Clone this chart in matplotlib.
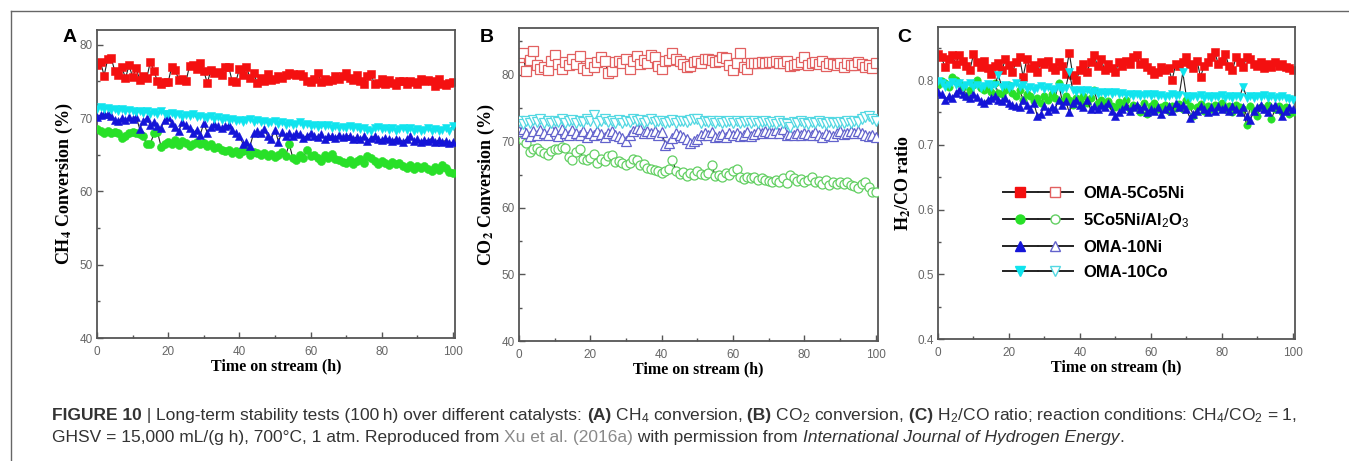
import matplotlib
matplotlib.use("Agg")
import matplotlib.pyplot as plt
from matplotlib.lines import Line2D
from matplotlib.legend_handler import HandlerTuple
from matplotlib.ticker import MultipleLocator

plt.rcParams['font.family'] = ['Liberation Sans', 'DejaVu Sans']
plt.rcParams['mathtext.fontset'] = 'custom'
plt.rcParams['mathtext.rm'] = 'Liberation Sans'
plt.rcParams['mathtext.it'] = 'Liberation Sans:italic'
plt.rcParams['mathtext.bf'] = 'Liberation Sans:bold'

hours = list(range(0, 101))

# (A) CH4 conversion, %
ch4_oma5co5ni = [
    77.3, 77.6, 75.8, 78.0, 78.2, 76.4, 75.9, 77.0, 75.4, 77.2,
    75.6, 76.8, 75.2, 75.8, 75.5, 77.7, 76.4, 75.0, 74.7, 74.9,
    74.9, 77.0, 76.5, 75.2, 75.3, 75.0, 77.1, 77.2, 76.7, 77.5,
    76.4, 74.8, 76.5, 76.1, 76.3, 75.9, 77.0, 77.0, 75.0, 74.9,
    76.7, 75.9, 77.0, 75.4, 76.2, 74.8, 75.5, 75.1, 76.0, 75.2,
    75.3, 75.7, 75.5, 75.9, 76.2, 76.0, 75.9, 76.0, 75.7, 75.0,
    74.9, 75.3, 76.2, 74.9, 75.3, 75.1, 75.2, 75.8, 75.3, 75.8,
    76.1, 75.5, 75.2, 75.9, 75.0, 74.6, 75.8, 76.0, 74.6, 74.8,
    75.3, 74.6, 75.2, 74.8, 74.5, 75.1, 75.0, 74.7, 75.0, 74.9,
    74.7, 75.3, 75.1, 75.2, 75.0, 74.4, 75.3, 74.6, 74.5, 74.8,
    74.9]
ch4_al2o3 = [
    68.5, 68.2, 68.0, 68.2, 67.9, 68.1, 68.0, 67.3, 67.6, 67.9,
    68.1, 68.0, 67.8, 67.5, 66.4, 66.5, 67.9, 68.1, 66.1, 66.4,
    66.7, 66.5, 67.0, 66.3, 66.9, 66.6, 66.2, 66.5, 66.8, 66.4,
    66.6, 66.2, 66.4, 65.9, 66.1, 65.7, 65.5, 65.6, 65.3, 65.5,
    65.1, 65.5, 65.7, 65.0, 65.4, 65.3, 64.9, 65.2, 64.8, 65.1,
    64.7, 65.0, 65.4, 64.8, 66.5, 64.6, 64.3, 65.0, 64.6, 65.7,
    64.8, 65.0, 64.5, 64.2, 64.9, 64.5, 65.1, 64.4, 64.3, 64.0,
    63.9, 64.3, 63.7, 64.1, 64.4, 63.9, 64.8, 64.5, 64.1, 63.8,
    64.1, 63.9, 63.6, 64.0, 63.7, 63.9, 63.5, 63.2, 63.6, 63.0,
    63.4, 63.2, 63.5, 63.1, 62.8, 63.3, 62.9, 63.6, 63.2, 62.7,
    62.5]
ch4_oma10ni = [
    70.2, 70.4, 70.6, 70.5, 70.3, 69.8, 69.6, 70.0, 69.7, 70.1,
    69.9, 70.2, 68.5, 69.6, 70.0, 69.0, 69.5, 68.9, 68.6, 69.8,
    70.1, 69.3, 68.8, 68.3, 69.4, 69.0, 68.6, 67.9, 68.4, 67.7,
    69.3, 68.0, 68.8, 69.2, 68.9, 68.6, 68.9, 69.0, 68.4, 68.0,
    67.6, 66.5, 66.7, 66.2, 67.9, 68.2, 68.0, 68.5, 67.5, 67.2,
    68.4, 66.8, 68.1, 67.6, 68.0, 67.5, 67.9, 67.8, 67.3, 67.6,
    67.9, 67.6, 67.4, 67.8, 67.2, 67.6, 67.5, 67.3, 67.7, 67.4,
    67.5, 67.6, 67.2, 67.4, 67.1, 67.5, 66.9, 67.3, 67.5, 67.2,
    67.0, 67.3, 67.1, 66.9, 67.2, 67.0, 66.8, 67.1, 67.5, 66.9,
    67.1, 66.8, 67.0, 66.9, 67.2, 66.7, 67.0, 66.8, 66.9, 66.6,
    66.7]
ch4_oma10co = [
    71.3, 71.5, 71.2, 71.4, 71.1, 71.3, 71.0, 71.2, 70.9, 71.1,
    71.0, 70.8, 71.0, 70.7, 70.9, 70.6, 70.8, 70.5, 70.9, 70.6,
    70.5, 70.7, 70.4, 70.6, 70.2, 70.4, 70.3, 70.5, 70.1, 70.3,
    70.2, 70.0, 70.3, 69.9, 70.1, 69.8, 70.0, 69.7, 69.9, 69.6,
    69.8, 69.5, 69.7, 69.9, 69.5, 69.7, 69.4, 69.6, 69.3, 69.5,
    69.6, 69.2, 69.4, 69.1, 69.3, 69.0, 69.2, 69.4, 69.0, 69.2,
    68.9, 69.1, 68.8, 69.0, 68.9, 69.1, 68.7, 68.9, 68.6, 68.8,
    68.7, 68.9, 68.6, 68.8, 68.5, 68.7, 68.4, 68.2, 68.6, 68.8,
    68.5, 68.7, 68.4, 68.6, 68.3, 68.5, 68.7, 68.4, 68.6, 68.3,
    68.5, 68.2, 68.4, 68.6, 68.3, 68.5, 68.2, 68.4, 68.6, 68.3,
    68.9]

# (B) CO2 conversion, %
co2_oma5co5ni = [
    82.6, 83.3, 80.5, 82.2, 83.5, 81.4, 80.9, 81.2, 80.7, 82.0,
    83.0, 81.6, 80.8, 81.9, 81.4, 82.4, 81.6, 82.8, 81.0, 80.7,
    81.8, 81.2, 81.9, 82.6, 82.1, 80.3, 80.5, 81.9, 82.1, 81.7,
    82.3, 80.9, 82.0, 82.8, 81.6, 82.2, 81.8, 83.0, 82.7, 81.3,
    80.8, 82.1, 82.2, 83.3, 82.4, 82.0, 81.6, 81.2, 81.3, 81.9,
    82.1, 81.7, 82.4, 82.3, 82.2, 81.9, 82.0, 82.6, 82.5, 81.4,
    80.7, 81.8, 83.3, 81.2, 80.8, 81.7, 81.8, 81.8, 81.9, 81.8,
    81.9, 81.9, 82.0, 81.8, 81.7, 82.1, 81.3, 81.4, 81.6, 81.9,
    82.6, 81.5, 81.7, 81.9, 81.6, 82.0, 81.3, 81.8, 81.6, 81.4,
    81.7, 81.2, 81.8, 81.5, 81.4, 81.9, 81.6, 81.2, 81.5, 81.0,
    81.7]
co2_al2o3 = [
    70.5, 70.2, 69.8, 68.4, 68.8, 69.0, 68.5, 68.2, 68.0, 68.6,
    68.8, 68.9, 69.2, 69.0, 67.6, 67.2, 68.4, 68.8, 67.4, 67.2,
    67.5, 68.1, 66.7, 67.4, 67.1, 67.8, 68.0, 66.9, 67.1, 66.7,
    66.5, 66.8, 67.3, 67.2, 66.5, 66.6, 66.0, 65.8, 65.7, 65.5,
    65.3, 65.6, 65.8, 67.2, 65.6, 65.1, 65.4, 64.8, 65.2, 65.0,
    65.5, 65.1, 64.9, 65.3, 66.5, 64.8, 65.0, 64.7, 65.2, 64.9,
    65.6, 65.8, 64.6, 64.3, 64.6, 64.4, 64.7, 64.2, 64.5, 64.1,
    64.0, 63.8, 64.1, 63.9, 64.5, 63.7, 64.9, 64.4, 64.0, 64.3,
    63.9, 64.1, 64.6, 63.8, 64.0, 63.6, 64.2, 63.4, 63.9, 63.5,
    63.8, 63.6, 63.9, 63.4, 63.2, 63.0, 63.5, 63.8, 63.1, 62.4,
    62.3]
co2_oma10ni = [
    71.5, 71.8, 71.2, 70.8, 71.5, 71.0, 71.7, 71.3, 70.9, 71.8,
    71.6, 70.8, 71.9, 71.3, 70.9, 71.7, 71.2, 71.0, 71.5, 70.6,
    71.3, 70.9, 71.6, 71.1, 70.6, 71.2, 71.5, 71.0, 70.8, 70.5,
    70.0, 70.9, 71.6, 72.0, 71.8, 71.3, 71.6, 71.2, 71.5, 71.0,
    71.4, 69.5, 69.7, 70.5, 71.3, 71.0, 70.6, 70.3, 69.8, 70.0,
    70.4, 70.9, 71.2, 71.0, 71.4, 70.6, 70.8, 71.1, 70.7, 71.2,
    70.9, 71.3, 70.8, 71.0, 71.4, 70.8, 71.1, 71.5, 71.2, 71.6,
    71.4, 71.3, 71.7, 71.2, 71.8, 71.0, 71.1, 70.9, 71.2, 71.0,
    71.3, 71.1, 70.9, 71.4, 71.0, 70.7, 71.2, 71.0, 70.8, 71.3,
    71.5, 71.1, 71.3, 71.6, 71.2, 71.5, 71.3, 71.0, 70.8, 70.9,
    70.7]
co2_oma10co = [
    73.0, 72.6, 73.1, 72.8, 73.2, 72.9, 73.3, 72.7, 73.0, 72.8,
    73.1, 72.9, 73.3, 72.7, 73.0, 73.2, 72.8, 73.1, 72.9, 73.4,
    73.0, 74.0, 72.8, 73.1, 73.3, 72.9, 73.0, 72.7, 73.2, 72.8,
    73.1, 72.9, 73.3, 73.0, 73.2, 72.8, 73.0, 73.3, 72.9, 73.1,
    73.0, 72.7, 72.9, 73.2, 72.8, 73.1, 73.0, 72.9, 73.2, 73.4,
    73.3, 72.8, 73.0, 72.9, 73.1, 72.8, 73.0, 72.7, 72.9, 73.0,
    72.8, 73.0, 72.7, 72.9, 73.1, 72.8, 73.0, 72.7, 72.9, 73.1,
    72.8, 72.9, 72.6, 73.0, 72.8, 72.6, 72.2, 72.9, 72.7, 73.0,
    72.8, 72.6, 72.9, 72.7, 73.0, 72.8, 72.6, 72.9, 72.7, 72.8,
    72.9, 72.7, 73.0, 72.8, 73.1, 72.9, 73.3, 73.6, 73.8, 73.3,
    73.0]

# (C) H2/CO ratio
h2co_oma5co5ni = [
    0.840, 0.835, 0.820, 0.832, 0.838, 0.825, 0.838, 0.830, 0.822, 0.815,
    0.840, 0.828, 0.820, 0.830, 0.818, 0.810, 0.822, 0.826, 0.815, 0.832,
    0.824, 0.812, 0.828, 0.835, 0.805, 0.832, 0.818, 0.823, 0.812, 0.828,
    0.825, 0.830, 0.820, 0.815, 0.828, 0.822, 0.810, 0.842, 0.808, 0.800,
    0.815, 0.825, 0.812, 0.828, 0.838, 0.822, 0.832, 0.815, 0.825, 0.818,
    0.812, 0.828, 0.822, 0.830, 0.825, 0.835, 0.838, 0.825, 0.828, 0.820,
    0.815, 0.810, 0.812, 0.820, 0.815, 0.818, 0.800, 0.825, 0.822, 0.828,
    0.835, 0.825, 0.818, 0.830, 0.805, 0.822, 0.828, 0.836, 0.843, 0.825,
    0.830, 0.840, 0.822, 0.815, 0.835, 0.828, 0.820, 0.835, 0.832, 0.825,
    0.822, 0.828, 0.818, 0.825, 0.820, 0.828, 0.822, 0.825, 0.820, 0.818,
    0.815]
h2co_al2o3 = [
    0.792, 0.798, 0.795, 0.790, 0.805, 0.800, 0.795, 0.790, 0.776, 0.785,
    0.792, 0.800, 0.788, 0.785, 0.790, 0.782, 0.795, 0.780, 0.778, 0.785,
    0.792, 0.780, 0.775, 0.785, 0.770, 0.778, 0.775, 0.768, 0.772, 0.765,
    0.775, 0.770, 0.778, 0.772, 0.795, 0.768, 0.775, 0.770, 0.762, 0.772,
    0.768, 0.775, 0.765, 0.772, 0.785, 0.765, 0.770, 0.763, 0.768, 0.760,
    0.758, 0.766, 0.760, 0.770, 0.755, 0.762, 0.758, 0.750, 0.765, 0.748,
    0.760, 0.765, 0.755, 0.758, 0.762, 0.752, 0.760, 0.757, 0.763, 0.755,
    0.770, 0.760, 0.745, 0.758, 0.763, 0.752, 0.760, 0.755, 0.762, 0.758,
    0.765, 0.755, 0.760, 0.750, 0.762, 0.758, 0.755, 0.730, 0.760, 0.752,
    0.745, 0.758, 0.755, 0.762, 0.740, 0.755, 0.760, 0.750, 0.758, 0.748,
    0.750]
h2co_oma10ni = [
    0.782, 0.778, 0.770, 0.775, 0.772, 0.780, 0.785, 0.778, 0.775, 0.772,
    0.778, 0.774, 0.768, 0.765, 0.770, 0.772, 0.775, 0.770, 0.768, 0.773,
    0.765, 0.762, 0.760, 0.758, 0.770, 0.762, 0.755, 0.765, 0.745, 0.748,
    0.760, 0.752, 0.758, 0.755, 0.770, 0.762, 0.768, 0.750, 0.765, 0.770,
    0.762, 0.758, 0.770, 0.755, 0.760, 0.755, 0.762, 0.758, 0.765, 0.752,
    0.745, 0.750, 0.755, 0.760, 0.752, 0.758, 0.762, 0.755, 0.760, 0.750,
    0.755, 0.752, 0.758, 0.748, 0.755, 0.760, 0.752, 0.765, 0.758, 0.762,
    0.755, 0.742, 0.748, 0.752, 0.760, 0.755, 0.750, 0.758, 0.752, 0.760,
    0.755, 0.758, 0.752, 0.760, 0.755, 0.750, 0.758, 0.745, 0.738, 0.752,
    0.758, 0.762, 0.755, 0.750, 0.758, 0.762, 0.755, 0.745, 0.752, 0.758,
    0.755]
h2co_oma10co = [
    0.798, 0.795, 0.790, 0.793, 0.797, 0.792, 0.795, 0.790, 0.793, 0.796,
    0.790, 0.792, 0.788, 0.791, 0.794, 0.789, 0.792, 0.808, 0.790, 0.793,
    0.788, 0.791, 0.795, 0.789, 0.792, 0.787, 0.790, 0.785, 0.788, 0.791,
    0.786, 0.789, 0.784, 0.787, 0.790, 0.785, 0.788, 0.812, 0.785, 0.782,
    0.785, 0.781, 0.784, 0.780, 0.783, 0.779, 0.782, 0.778, 0.781, 0.779,
    0.782, 0.778, 0.780, 0.777, 0.779, 0.776, 0.778, 0.775, 0.777, 0.779,
    0.776, 0.778, 0.775, 0.777, 0.774, 0.776, 0.778, 0.775, 0.777, 0.812,
    0.775, 0.773, 0.776, 0.774, 0.777, 0.773, 0.775, 0.772, 0.776, 0.774,
    0.777, 0.773, 0.775, 0.772, 0.776, 0.774, 0.790, 0.773, 0.775, 0.772,
    0.776, 0.774, 0.777, 0.773, 0.775, 0.772, 0.774, 0.776, 0.773, 0.771,
    0.770]

names = ['OMA-5Co5Ni', '5Co5Ni/Al$_2$O$_3$', 'OMA-10Ni', 'OMA-10Co']
markers = ['s', 'o', '^', 'v']
solid_colors = ['#f41010', '#28e028', '#1414d8', '#10e4ee']
open_colors = ['#e26060', '#62cf62', '#6262cc', '#52d8e2']

fig = plt.figure(figsize=(13.49, 4.61), dpi=100)

serif = ['Liberation Serif', 'DejaVu Serif']
frame_col = '#555555'


def style_axes(ax, ylim, major, minor, ylabel):
    ax.set_xlim(0, 100.6)
    ax.set_ylim(*ylim)
    ax.xaxis.set_major_locator(MultipleLocator(20))
    ax.xaxis.set_minor_locator(MultipleLocator(10))
    ax.yaxis.set_major_locator(MultipleLocator(major))
    ax.yaxis.set_minor_locator(MultipleLocator(minor))
    ax.tick_params(which='both', direction='in', colors=frame_col,
                   labelcolor='#666666', labelsize=8.5, pad=3)
    ax.tick_params(axis='x', pad=6)
    ax.tick_params(which='major', length=4, width=1)
    ax.tick_params(which='minor', length=2.5, width=1)
    for s in ax.spines.values():
        s.set_color(frame_col)
        s.set_linewidth(1.3)
    ax.set_xlabel('Time on stream (h)', family=serif, weight='bold',
                  fontsize=11.5, labelpad=0)
    ax.set_ylabel(ylabel, family=serif, weight='bold', fontsize=13,
                  labelpad=3, math_fontfamily='stix')


def draw_series(ax, series, order, filled, ms):
    for i in order:
        col = solid_colors[i] if filled else open_colors[i]
        ax.plot(hours, series[i], color='#222222', lw=0.8,
                marker=markers[i], ms=ms, mec=col,
                mfc=col if filled else 'white',
                mew=0.4 if filled else 0.9, zorder=2 + i)


axA = fig.add_axes([0.0719, 0.2668, 0.2654, 0.668])
draw_series(axA, [ch4_oma5co5ni, ch4_al2o3, ch4_oma10ni, ch4_oma10co],
            [3, 1, 2, 0], True, 5.8)
style_axes(axA, (40, 82), 10, 5, 'CH$_\\mathbf{4}$ Conversion (%)')

axB = fig.add_axes([0.3847, 0.2603, 0.2661, 0.679])
draw_series(axB, [co2_oma5co5ni, co2_al2o3, co2_oma10ni, co2_oma10co],
            [1, 2, 3, 0], False, 6.5)
style_axes(axB, (40, 87), 10, 5, 'CO$_\\mathbf{2}$ Conversion (%)')

axC = fig.add_axes([0.6953, 0.2646, 0.2646, 0.6768])
draw_series(axC, [h2co_oma5co5ni, h2co_al2o3, h2co_oma10ni, h2co_oma10co],
            [1, 2, 3, 0], True, 5.3)
style_axes(axC, (0.4, 0.882), 0.1, 0.05, 'H$_\\mathbf{2}$/CO ratio')

# legend: filled marker (conversion/ratio) and open marker (CO2 panel)
handles = []
for i in range(4):
    h_fill = Line2D([], [], color='#222222', lw=1.4, marker=markers[i],
                    ms=6.5, mfc=solid_colors[i], mec=solid_colors[i])
    h_open = Line2D([], [], color='#222222', lw=1.4, marker=markers[i],
                    ms=6.5, mfc='white', mec=open_colors[i], mew=1.0)
    handles.append((h_fill, h_open))
axC.legend(handles, names, handler_map={tuple: HandlerTuple(ndivide=None, pad=0)},
           loc='center left', bbox_to_anchor=(0.14, 0.34), frameon=False,
           handlelength=4.2, handletextpad=0.6, labelspacing=0.6,
           prop={'weight': 'bold', 'size': 12, 'family': 'Liberation Sans'},
           numpoints=1)

for lbl, x in [('A', 63), ('B', 480), ('C', 897)]:
    fig.text(x / 1349, 1 - 42 / 461, lbl, fontsize=14, weight='bold',
             color='black')

# thin border around figure + caption block
fig.add_artist(Line2D([11 / 1349, 11 / 1349], [0, 1 - 11 / 461],
                      transform=fig.transFigure, color='#666666', lw=1))
fig.add_artist(Line2D([11 / 1349, 1], [1 - 11 / 461, 1 - 11 / 461],
                      transform=fig.transFigure, color='#666666', lw=1))

caption_col = '#333333'
link_col = '#8a8a8a'
reg = {'color': caption_col}
bold = {'color': caption_col, 'weight': 'bold'}
line1 = [
    ('FIGURE 10', bold),
    (' | ', reg),
    ('Long-term stability tests (100\u2009h) over different catalysts: ', reg),
    ('(A)', bold),
    (' CH$_4$ conversion,', reg),
    (' (B)', bold),
    (' CO$_2$ conversion,', reg),
    (' (C)', bold),
    (' H$_2$/CO ratio; reaction conditions: CH$_4$/CO$_2$ = 1,', reg),
]
line2 = [
    ('GHSV = 15,000 mL/(g h), 700\u00b0C, 1 atm. Reproduced from ', reg),
    ('Xu et al. (2016a)', {'color': link_col}),
    (' with permission from ', reg),
    ('International Journal of Hydrogen Energy', {'color': caption_col, 'style': 'italic'}),
    ('.', reg),
]


def draw_runs(x_px, y_px, runs, size):
    renderer = fig.canvas.get_renderer()
    x = x_px / 1349
    for text, kw in runs:
        t = fig.text(x, 1 - y_px / 461, text, fontsize=size, va='baseline',
                     ha='left', family=['Liberation Sans', 'DejaVu Sans'], **kw)
        bb = t.get_window_extent(renderer)
        x += bb.width / fig.bbox.width


draw_runs(52, 420, line1, 12.55)
draw_runs(52, 442, line2, 12.55)

fig.savefig('out.png', dpi=100)
